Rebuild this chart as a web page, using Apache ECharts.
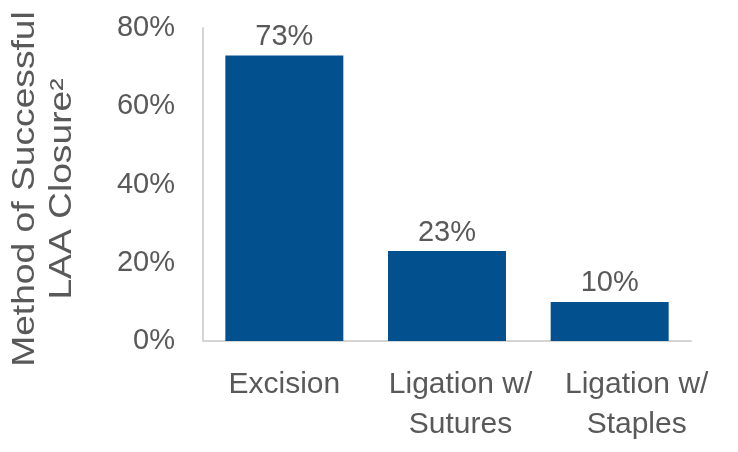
<!DOCTYPE html>
<html>
<head>
<meta charset="utf-8">
<script src="https://cdn.jsdelivr.net/npm/echarts@6/dist/echarts.min.js"></script>
<style>
  html, body { margin: 0; padding: 0; background: #ffffff; }
  #chart { width: 738px; height: 452px; }
</style>
</head>
<body>
<div id="chart"></div>
<script>
// Closure methods and their share of successful LAA closures (%)
const categories = ['Excision', 'Ligation w/\nSutures', 'Ligation w/\nStaples'];
const closureShare = [73, 23, 10];
const yTicks = [0, 20, 40, 60, 80];
const axisTitle = 'Method of Successful\nLAA Closure²';

const TEXT = '#595959';
const BAR = '#03508f';
const FONT = '"Liberation Sans", Arial, sans-serif';

// small per-label nudges for the two-line category labels
const labelShift = [0, 27, 54];

const chart = echarts.init(document.getElementById('chart'), null, { renderer: 'canvas' });

chart.setOption({
  backgroundColor: '#ffffff',
  animation: false,
  grid: { left: 203, right: 47, top: 28, bottom: 111, containLabel: false },
  xAxis: {
    type: 'category',
    data: categories.map((c, i) => ({
      value: c,
      textStyle: { padding: [0, 0, 0, labelShift[i]] }
    })),
    axisLine: { show: true, lineStyle: { color: '#d4d4d4', width: 2 } },
    axisTick: { show: false },
    axisLabel: {
      color: TEXT, fontFamily: FONT, fontSize: 30, lineHeight: 40,
      margin: 24, interval: 0
    }
  },
  yAxis: {
    type: 'value',
    min: yTicks[0],
    max: yTicks[yTicks.length - 1],
    interval: yTicks[1] - yTicks[0],
    axisLine: { show: true, lineStyle: { color: '#d4d4d4', width: 2 } },
    axisTick: { show: false },
    splitLine: { show: false },
    axisLabel: {
      color: TEXT, fontFamily: FONT, fontSize: 29, margin: 28,
      formatter: v => v + '%'
    }
  },
  series: [{
    type: 'bar',
    data: closureShare,
    barWidth: 118,
    itemStyle: { color: BAR },
    label: {
      show: true, position: 'top', distance: 4,
      color: TEXT, fontFamily: FONT, fontSize: 29,
      formatter: p => p.value + '%'
    }
  }],
  graphic: [{
    type: 'text',
    x: 44,
    y: 189,
    rotation: Math.PI / 2,
    scaleX: 1.2,
    style: {
      text: axisTitle,
      fill: TEXT,
      font: '31px ' + FONT,
      lineHeight: 37,
      align: 'center',
      verticalAlign: 'middle'
    }
  }]
});
</script>
</body>
</html>
